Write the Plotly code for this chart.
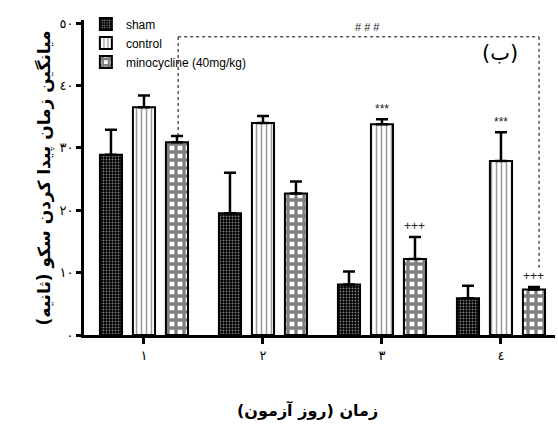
import plotly.graph_objects as go

days = [1, 2, 3, 4]
day_labels = ["١", "٢", "٣", "٤"]
y_tickvals = [0, 10, 20, 30, 40, 50]
y_ticklabels = ["٠", "١٠", "٢٠", "٣٠", "٤٠", "٥٠"]

sham_mean = [28.9, 19.5, 8.1, 5.9]
sham_err = [4.0, 6.5, 2.1, 2.0]
control_mean = [36.5, 34.0, 33.8, 27.9]
control_err = [1.9, 1.1, 0.8, 4.6]
mino_mean = [30.9, 22.7, 12.2, 7.3]
mino_err = [1.0, 1.9, 3.5, 0.4]

series_names = ["sham", "control", "minocycline (40mg/kg)"]
stars_control = ["", "", "***", "***"]
plus_mino = ["", "", "+++", "+++"]

FONT = "DejaVu Sans"
slot = 0.277

fig = go.Figure()

def err(a):
    return dict(type="data", array=a, arrayminus=[0] * len(a), symmetric=False,
                color="black", thickness=2.5, width=6)

fig.add_trace(go.Bar(
    x=days, y=sham_mean, name=series_names[0], error_y=err(sham_err),
    marker=dict(color="black", line=dict(color="black", width=2),
                pattern=dict(shape=".", fgcolor="white", bgcolor="black", size=3, solidity=0.3)),
))
fig.add_trace(go.Bar(
    x=days, y=control_mean, name=series_names[1], error_y=err(control_err),
    marker=dict(color="white", line=dict(color="black", width=2),
                pattern=dict(shape="|", fgcolor="#333333", bgcolor="white", size=5, solidity=0.3)),
))
fig.add_trace(go.Bar(
    x=days, y=mino_mean, name=series_names[2], error_y=err(mino_err),
    marker=dict(color="black", line=dict(color="black", width=2),
                pattern=dict(shape="+", fgcolor="black", bgcolor="white", size=8, solidity=0.65)),
))

annotations = []
for i, d in enumerate(days):
    if stars_control[i]:
        annotations.append(dict(x=d, y=control_mean[i] + control_err[i], text=stars_control[i],
                                showarrow=False, yanchor="bottom", yshift=1,
                                font=dict(family="Arial", size=12, color="#222")))
    if plus_mino[i]:
        annotations.append(dict(x=d + slot, y=mino_mean[i] + mino_err[i], text=plus_mino[i],
                                showarrow=False, yanchor="bottom", yshift=2,
                                font=dict(family="Arial", size=12, color="#222")))

bracket_y = 47.8
annotations.append(dict(x=2.88, y=bracket_y, text="# # #", showarrow=False, yanchor="bottom",
                        yshift=2, font=dict(family="Arial", size=11, color="#222")))
annotations.append(dict(x=3.99, y=45.2, text="(ب)", showarrow=False,
                        font=dict(family=FONT, size=21, color="black")))
# axis titles
annotations.append(dict(xref="paper", yref="paper", x=-0.083, y=0.5, xanchor="center", yanchor="middle",
                        text="<b>میانگین زمان پیدا کردن سکو (ثانیه)</b>",
                        textangle=-90, showarrow=False, font=dict(family=FONT, size=17, color="black")))
annotations.append(dict(xref="paper", yref="paper", x=0.475, y=-0.238, xanchor="center", yanchor="middle",
                        text="<b>زمان (روز آزمون)</b>",
                        showarrow=False, font=dict(family=FONT, size=16, color="black")))

shapes = [
    dict(type="line", x0=1 + slot + 0.01, x1=1 + slot + 0.01, y0=mino_mean[0] + mino_err[0], y1=bracket_y,
         line=dict(color="black", width=1, dash="dot")),
    dict(type="line", x0=1 + slot + 0.01, x1=4.32, y0=bracket_y, y1=bracket_y,
         line=dict(color="black", width=1, dash="dot")),
    dict(type="line", x0=4.32, x1=4.32, y0=bracket_y, y1=10.6,
         line=dict(color="black", width=1, dash="dot")),
]

fig.update_layout(
    width=558, height=424,
    margin=dict(l=84, r=3, t=20, b=89),
    plot_bgcolor="white", paper_bgcolor="white",
    barmode="group", bargap=0.168, bargroupgap=0.33,
    showlegend=True,
    legend=dict(x=0.004, y=1.033, xanchor="left", yanchor="top", bgcolor="rgba(0,0,0,0)",
                font=dict(family="Arial", size=12, color="black"), tracegroupgap=0,
                itemsizing="constant"),
    xaxis=dict(range=[0.496, 4.454], tickvals=days, ticktext=day_labels, showgrid=False,
               zeroline=False, showline=True, linecolor="black", linewidth=3,
               ticks="outside", ticklen=6, tickwidth=3, tickcolor="black",
               tickfont=dict(family=FONT, size=13, color="black")),
    yaxis=dict(range=[0, 50.5], tickvals=y_tickvals, ticktext=y_ticklabels, showgrid=False,
               zeroline=False, showline=True, linecolor="black", linewidth=3,
               ticks="outside", ticklen=5, tickwidth=2.5, tickcolor="black",
               tickfont=dict(family=FONT, size=13, color="black")),
    annotations=annotations,
    shapes=shapes,
)

fig.write_html("out.html", config={"displayModeBar": False},
               post_script="document.body.style.margin='0';")
